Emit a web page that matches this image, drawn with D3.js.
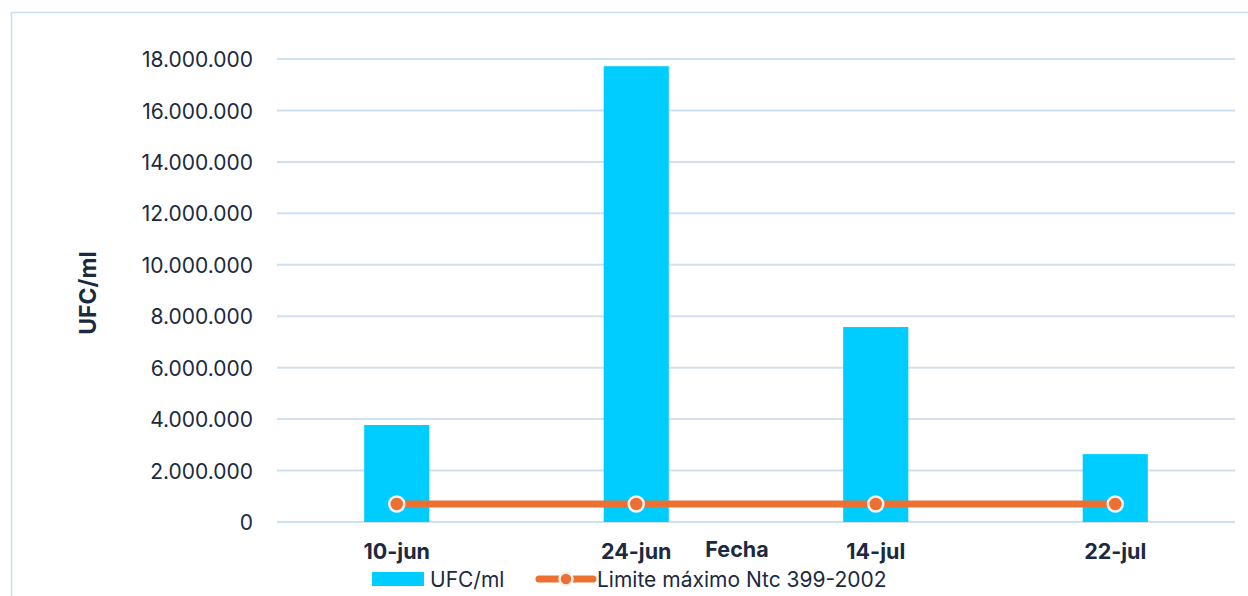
<!DOCTYPE html>
<html>
<head>
<meta charset="utf-8">
<script src="https://d3js.org/d3.v7.min.js"></script>
<style>
  body { margin: 0; background: #fff; }
  svg text { font-family: "Inter", "Noto Sans", sans-serif; fill: #1b2a40; }
</style>
</head>
<body>
<svg id="chart"></svg>
<script>
// data
var fechas = ["10-jun", "24-jun", "14-jul", "22-jul"];
var ufc = [3770000, 17720000, 7580000, 2640000];
var limite = [700000, 700000, 700000, 700000];
var yTicks = [0, 2000000, 4000000, 6000000, 8000000, 10000000, 12000000, 14000000, 16000000, 18000000];

var width = 1248, height = 596;
var margin = {top: 59, right: 13, bottom: 74, left: 277};

var svg = d3.select("#chart").attr("width", width).attr("height", height);

// outer frame
svg.append("rect")
    .attr("x", 11.5).attr("y", 12.5)
    .attr("width", width).attr("height", height)
    .attr("fill", "none")
    .attr("stroke", "#c9dcf0")
    .attr("stroke-width", 1.5);

var x = d3.scaleBand()
    .domain(fechas)
    .range([margin.left, width - margin.right])
    .paddingInner(0.728)
    .paddingOuter(0.364);

var y = d3.scaleLinear()
    .domain([0, 18000000])
    .range([height - margin.bottom, margin.top]);

var fmt = function(d) { return d3.format(",")(d).replace(/,/g, "."); };

// gridlines
svg.append("g")
  .selectAll("line")
  .data(yTicks)
  .enter().append("line")
    .attr("x1", margin.left).attr("x2", width - margin.right)
    .attr("y1", function(d) { return y(d); })
    .attr("y2", function(d) { return y(d); })
    .attr("stroke", "#cfe0f3")
    .attr("stroke-width", 2);

// y axis labels
var yAxis = d3.axisLeft(y).tickValues(yTicks).tickFormat(fmt).tickSize(0).tickPadding(24);
svg.append("g")
    .attr("transform", "translate(" + margin.left + ",0)")
    .call(yAxis)
    .call(function(g) { g.select(".domain").remove(); })
    .selectAll("text")
    .style("font-size", "21px")
    .attr("dy", "0.36em")
    .attr("fill", "#1b2a40");

// bars
svg.append("g")
  .selectAll("rect")
  .data(ufc)
  .enter().append("rect")
    .attr("x", function(d, i) { return x(fechas[i]); })
    .attr("y", function(d) { return y(d); })
    .attr("width", x.bandwidth())
    .attr("height", function(d) { return y(0) - y(d); })
    .attr("fill", "#00cdff");

// limit line
var line = d3.line()
    .x(function(d, i) { return x(fechas[i]) + x.bandwidth() / 2; })
    .y(function(d) { return y(d); });

svg.append("path")
    .datum(limite)
    .attr("d", line)
    .attr("fill", "none")
    .attr("stroke", "#eb7032")
    .attr("stroke-width", 7);

svg.append("g")
  .selectAll("circle")
  .data(limite)
  .enter().append("circle")
    .attr("cx", function(d, i) { return x(fechas[i]) + x.bandwidth() / 2; })
    .attr("cy", function(d) { return y(d); })
    .attr("r", 7.5)
    .attr("fill", "#eb7032")
    .attr("stroke", "#f1f1f1")
    .attr("stroke-width", 2.5);

// x axis labels
var xAxis = d3.axisBottom(x).tickSize(0).tickPadding(22);
svg.append("g")
    .attr("transform", "translate(0," + y(0) + ")")
    .call(xAxis)
    .call(function(g) { g.select(".domain").remove(); })
    .selectAll("text")
    .style("font-size", "21.5px")
    .style("font-weight", "bold")
    .attr("fill", "#1b2a40");

// axis titles
svg.append("text")
    .attr("x", 737).attr("y", 557)
    .attr("text-anchor", "middle")
    .style("font-size", "21.5px")
    .style("font-weight", "bold")
    .text("Fecha");

svg.append("text")
    .attr("transform", "translate(96,293) rotate(-90)")
    .attr("text-anchor", "middle")
    .style("font-size", "23px")
    .style("font-weight", "bold")
    .text("UFC/ml");

// legend
var leg = svg.append("g");
leg.append("rect")
    .attr("x", 372).attr("y", 572)
    .attr("width", 52).attr("height", 14)
    .attr("fill", "#00cdff");
leg.append("text")
    .attr("x", 430).attr("y", 587)
    .style("font-size", "21px")
    .text("UFC/ml");
leg.append("line")
    .attr("x1", 539).attr("x2", 593)
    .attr("y1", 579).attr("y2", 579)
    .attr("stroke", "#eb7032")
    .attr("stroke-width", 7)
    .attr("stroke-linecap", "round");
leg.append("circle")
    .attr("cx", 566).attr("cy", 579).attr("r", 6.5)
    .attr("fill", "#eb7032")
    .attr("stroke", "#f1f1f1")
    .attr("stroke-width", 2.5);
leg.append("text")
    .attr("x", 597).attr("y", 587)
    .style("font-size", "21px")
    .text("Limite máximo Ntc 399-2002");
</script>
</body>
</html>
